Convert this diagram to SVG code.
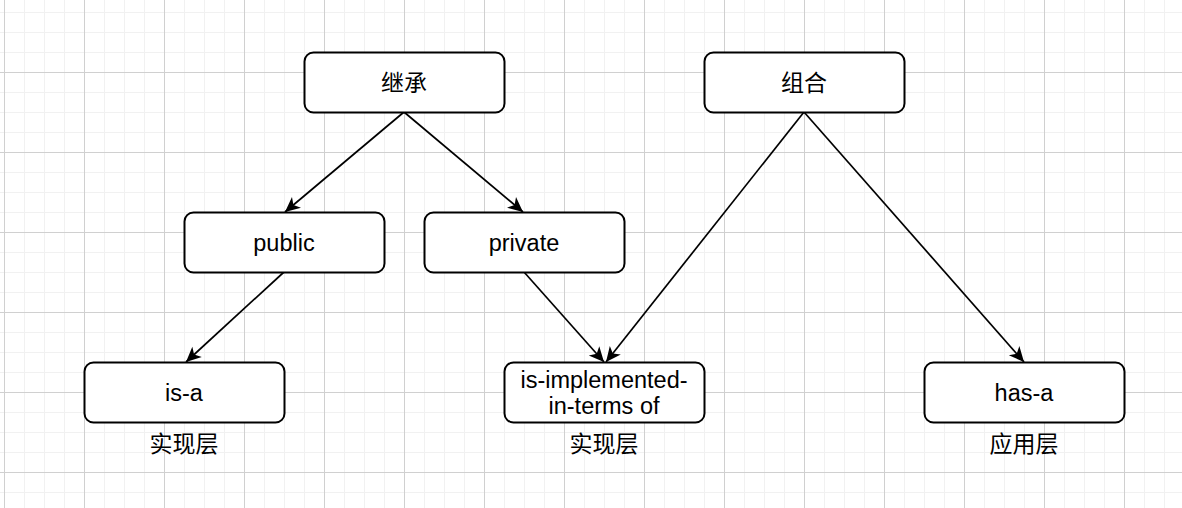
<svg xmlns="http://www.w3.org/2000/svg" width="1182" height="508" viewBox="0 0 1182 508">
  <defs>
    <pattern id="grid" patternUnits="userSpaceOnUse" x="4" y="72" width="80" height="80">
      <rect x="0" y="0" width="80" height="80" fill="#ffffff"/>
      <g fill="#f1f1f1">
        <rect x="20" y="0" width="1" height="80"/>
        <rect x="40" y="0" width="1" height="80"/>
        <rect x="60" y="0" width="1" height="80"/>
        <rect x="0" y="20" width="80" height="1"/>
        <rect x="0" y="40" width="80" height="1"/>
        <rect x="0" y="60" width="80" height="1"/>
      </g>
      <g fill="#d0d0d0">
        <rect x="0" y="0" width="1" height="80"/>
        <rect x="0" y="0" width="80" height="1"/>
      </g>
    </pattern>
    <marker id="arrow" markerUnits="userSpaceOnUse" markerWidth="18" markerHeight="16" viewBox="-16 -8 18 16" refX="0" refY="0" orient="auto">
      <path d="M0,0 L-15,-7 L-11,0 L-15,7 Z" fill="#000000"/>
    </marker>
    <style>
      .box { fill: #ffffff; stroke: #000000; stroke-width: 2; }
      .lbl { font-family: "Liberation Sans", "Noto Sans CJK SC", sans-serif; font-size: 23.5px; fill: #000000; text-anchor: middle; }
      .cjk { font-family: "Noto Sans CJK SC", "Liberation Sans", sans-serif; font-size: 23px; fill: #000000; text-anchor: middle; }
      .edge { fill: none; stroke: #000000; stroke-width: 1.7; marker-end: url(#arrow); }
    </style>
  </defs>
  <rect x="0" y="0" width="1182" height="508" fill="url(#grid)"/>

  <g id="connectors">
    <line class="edge" x1="404" y1="112" x2="285" y2="212"/>
    <line class="edge" x1="404" y1="112" x2="523" y2="212"/>
    <line class="edge" x1="284" y1="272" x2="186" y2="362"/>
    <line class="edge" x1="524" y1="272" x2="604" y2="362"/>
    <line class="edge" x1="804" y1="112" x2="606" y2="362"/>
    <line class="edge" x1="804" y1="112" x2="1024" y2="362"/>
  </g>

  <g id="node-inherit">
    <rect class="box" x="304.5" y="52.5" width="200" height="60" rx="9"/>
    <text class="cjk" x="404" y="91">继承</text>
  </g>
  <g id="node-compose">
    <rect class="box" x="704.5" y="52.5" width="200" height="60" rx="9"/>
    <text class="cjk" x="804" y="91">组合</text>
  </g>
  <g id="node-public">
    <rect class="box" x="184.5" y="212.5" width="200" height="60" rx="9"/>
    <text class="lbl" x="284" y="251">public</text>
  </g>
  <g id="node-private">
    <rect class="box" x="424.5" y="212.5" width="200" height="60" rx="9"/>
    <text class="lbl" x="524" y="251">private</text>
  </g>
  <g id="node-isa">
    <rect class="box" x="84.5" y="362.5" width="200" height="60" rx="9"/>
    <text class="lbl" x="184" y="401">is-a</text>
  </g>
  <g id="node-impl">
    <rect class="box" x="504.5" y="362.5" width="200" height="60" rx="9"/>
    <text class="lbl" x="604" y="388">is-implemented-</text>
    <text class="lbl" x="604" y="414">in-terms of</text>
  </g>
  <g id="node-hasa">
    <rect class="box" x="924.5" y="362.5" width="200" height="60" rx="9"/>
    <text class="lbl" x="1024" y="401">has-a</text>
  </g>
  <g id="label-impl1">
    <text class="cjk" x="184" y="452">实现层</text>
  </g>
  <g id="label-impl2">
    <text class="cjk" x="604" y="452">实现层</text>
  </g>
  <g id="label-app">
    <text class="cjk" x="1024" y="452">应用层</text>
  </g>
</svg>
